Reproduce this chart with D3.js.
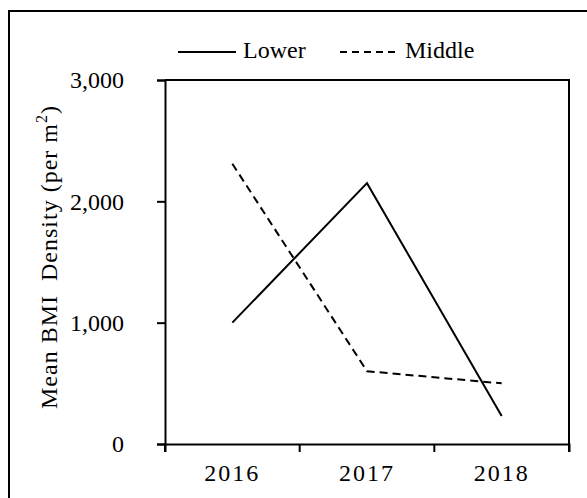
<!DOCTYPE html>
<html><head><meta charset="utf-8">
<script src="https://cdn.jsdelivr.net/npm/d3@7"></script>
<style>body{margin:0;background:#fff}svg{display:block}text{font-family:"Liberation Serif","Times New Roman",serif;fill:#000}</style>
</head><body><svg id="c" width="587" height="498"></svg>
<script>
const years = ["2016", "2017", "2018"];
const lowerValues = [1000, 2150, 230];
const middleValues = [2310, 600, 500];
const yTicks = [0, 1000, 2000, 3000];
const seriesNames = ["Lower", "Middle"];

const svg = d3.select("#c");
const m = {l:165, r:569, t:80, b:444};
const x = d3.scaleBand().domain(years).range([m.l, m.r]);
const y = d3.scaleLinear().domain([0, 3000]).range([m.b, m.t]);
const fs = 24;
const FF = '"Liberation Serif","Times New Roman",serif';

// outer border
svg.append("rect").attr("x", 9).attr("y", 11).attr("width", 600).attr("height", 520)
  .attr("fill", "none").attr("stroke", "#000").attr("stroke-width", 2);

// plot frame (top and right)
svg.append("path").attr("d", `M${m.l},${m.t}H${m.r}V${m.b}`).attr("fill","none").attr("stroke","#000").attr("stroke-width",2);

const ya = svg.append("g").attr("transform", `translate(${m.l},0)`)
  .call(d3.axisLeft(y).tickValues(yTicks).tickSize(8).tickPadding(33).tickFormat(d3.format(",")));
const xa = svg.append("g").attr("transform", `translate(0,${m.b})`)
  .call(d3.axisBottom(x).tickSize(8).tickPadding(12));
xa.selectAll(".tick line").remove();
const edges = [m.l, ...years.slice(1).map(d => x(d)), m.r];
xa.selectAll(".edge").data(edges).enter().append("line").attr("x1", d=>d).attr("x2", d=>d)
  .attr("y1", 0).attr("y2", 8).attr("stroke","#000").attr("stroke-width",2);
[ya, xa].forEach(g => {
  g.attr("font-family", null).attr("font-size", null);
  g.selectAll("path.domain").attr("stroke-width", 2);
  g.selectAll(".tick line").attr("stroke-width", 2);
  g.selectAll("text").style("font-size", fs+"px").style("font-family", FF);
});
xa.selectAll(".tick text").attr("dy", "0.71em").style("letter-spacing", "2px");

const line = d3.line().x((d,i) => x(years[i]) + x.bandwidth()/2).y(d => y(d));
svg.append("path").datum(lowerValues).attr("d", line).attr("fill","none").attr("stroke","#000").attr("stroke-width",2);
svg.append("path").datum(middleValues).attr("d", line).attr("fill","none").attr("stroke","#000").attr("stroke-width",2).attr("stroke-dasharray","8,5");

// legend
const lg = svg.append("g");
lg.append("line").attr("x1",178).attr("x2",236).attr("y1",52).attr("y2",52).attr("stroke","#000").attr("stroke-width",2);
lg.append("text").attr("x",243).attr("y",58).style("font-size",fs+"px").style("font-family",FF).text(seriesNames[0]);
lg.append("line").attr("x1",340).attr("x2",397).attr("y1",52).attr("y2",52).attr("stroke","#000").attr("stroke-width",2).attr("stroke-dasharray","7,5");
lg.append("text").attr("x",405).attr("y",58).style("font-size",fs+"px").style("font-family",FF).text(seriesNames[1]);

// y title
const t = svg.append("text").attr("transform","translate(57,257) rotate(-90)").attr("text-anchor","middle")
  .attr("xml:space","preserve").style("white-space","pre").style("font-size",fs+"px").style("font-family",FF).style("letter-spacing","1px");
t.append("tspan").text("Mean BMI  Density (per m");
t.append("tspan").attr("dy",-10).style("font-size","16px").text("2");
t.append("tspan").attr("dy",10).text(")");
</script></body></html>
